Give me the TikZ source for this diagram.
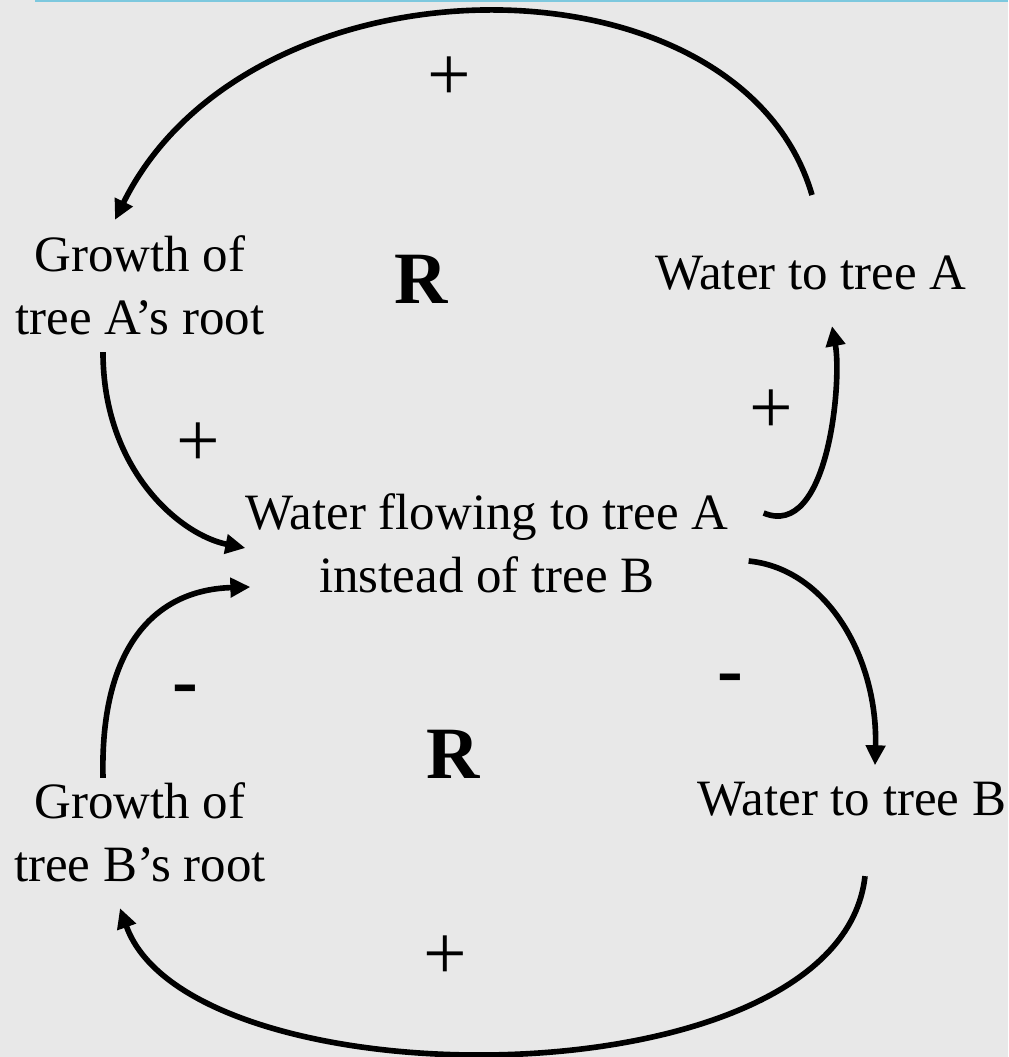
\documentclass[tikz,border=0pt]{standalone}
\usepackage{fontspec}
\setmainfont{Liberation Serif}
\usetikzlibrary{arrows.meta,calc}
\definecolor{paper}{RGB}{232,232,232}
\definecolor{rim}{RGB}{125,200,222}

\begin{document}
\begin{tikzpicture}[x=0.02cm,y=-0.02cm,
  var/.style={inner sep=0pt,align=center,font=\fontsize{29}{36}\selectfont},
  sign/.style={inner sep=0pt,font=\fontsize{44}{44}\selectfont},
  minus/.style={inner sep=0pt,font=\bfseries\fontsize{44}{44}\selectfont},
  loopname/.style={inner sep=0pt,anchor=base,font=\bfseries\fontsize{42}{42}\selectfont},
  link/.style={line width=3.2pt,-{Triangle[length=0.4cm,width=0.38cm]}}]
\fill[paper] (0,0) rectangle (1008,1057);
\useasboundingbox (0,0) rectangle (1008,1057);
\draw[rim,line width=0.06cm] (35,1) -- (1008,1);

\node[var] (rootA) at (140,285) {Growth of\\tree A’s root};
\node[var,anchor=base] (waterA) at (811,290) {Water to tree A};
\node[var] (flow) at (487,543) {Water flowing to tree A\\instead of tree B};
\node[var,anchor=base] (waterB) at (852,815) {Water to tree B};
\node[var] (rootB) at (140,832) {Growth of\\tree B’s root};
\node[loopname] (loopA) at (421,303) {R};
\node[loopname] (loopB) at (453,778) {R};

\node[sign] (plusTop) at (449,79) {+};
\node[sign] (plusLeft) at (198,445) {+};
\node[sign] (plusRight) at (771,412) {+};
\node[minus] (minusLeft) at (185,696) {-};
\node[minus] (minusRight) at (730,685) {-};
\node[sign] (plusBottom) at (445,958) {+};

\draw[link] ($(waterA.north)+(1,-61)$) .. controls +(-72,-248) and +(135,-273) .. ($(rootA.north)+(-25,-15)$);
\draw[link] ($(rootA.south)+(-37,17)$) .. controls +(0,118) and +(-65,-13) .. ($(flow.west)+(0,5)$);
\draw[link] ($(flow.east)+(35,-30)$) .. controls +(65,27) and +(10,55) .. ($(waterA.south)+(21,35)$);
\draw[link] ($(flow.east)+(20,18)$) .. controls +(80,8) and +(3,-105) .. ($(waterB.north)+(23,-16)$);
\draw[link] ($(waterB.south)+(13,60)$) .. controls +(-25,230) and +(70,197) .. ($(rootB.south)+(-20,26)$);
\draw[link] ($(rootB.north)+(-37,-4)$) .. controls +(-3,-125) and +(-100,3) .. ($(flow.west)+(5,44)$);
\end{tikzpicture}
\end{document}
